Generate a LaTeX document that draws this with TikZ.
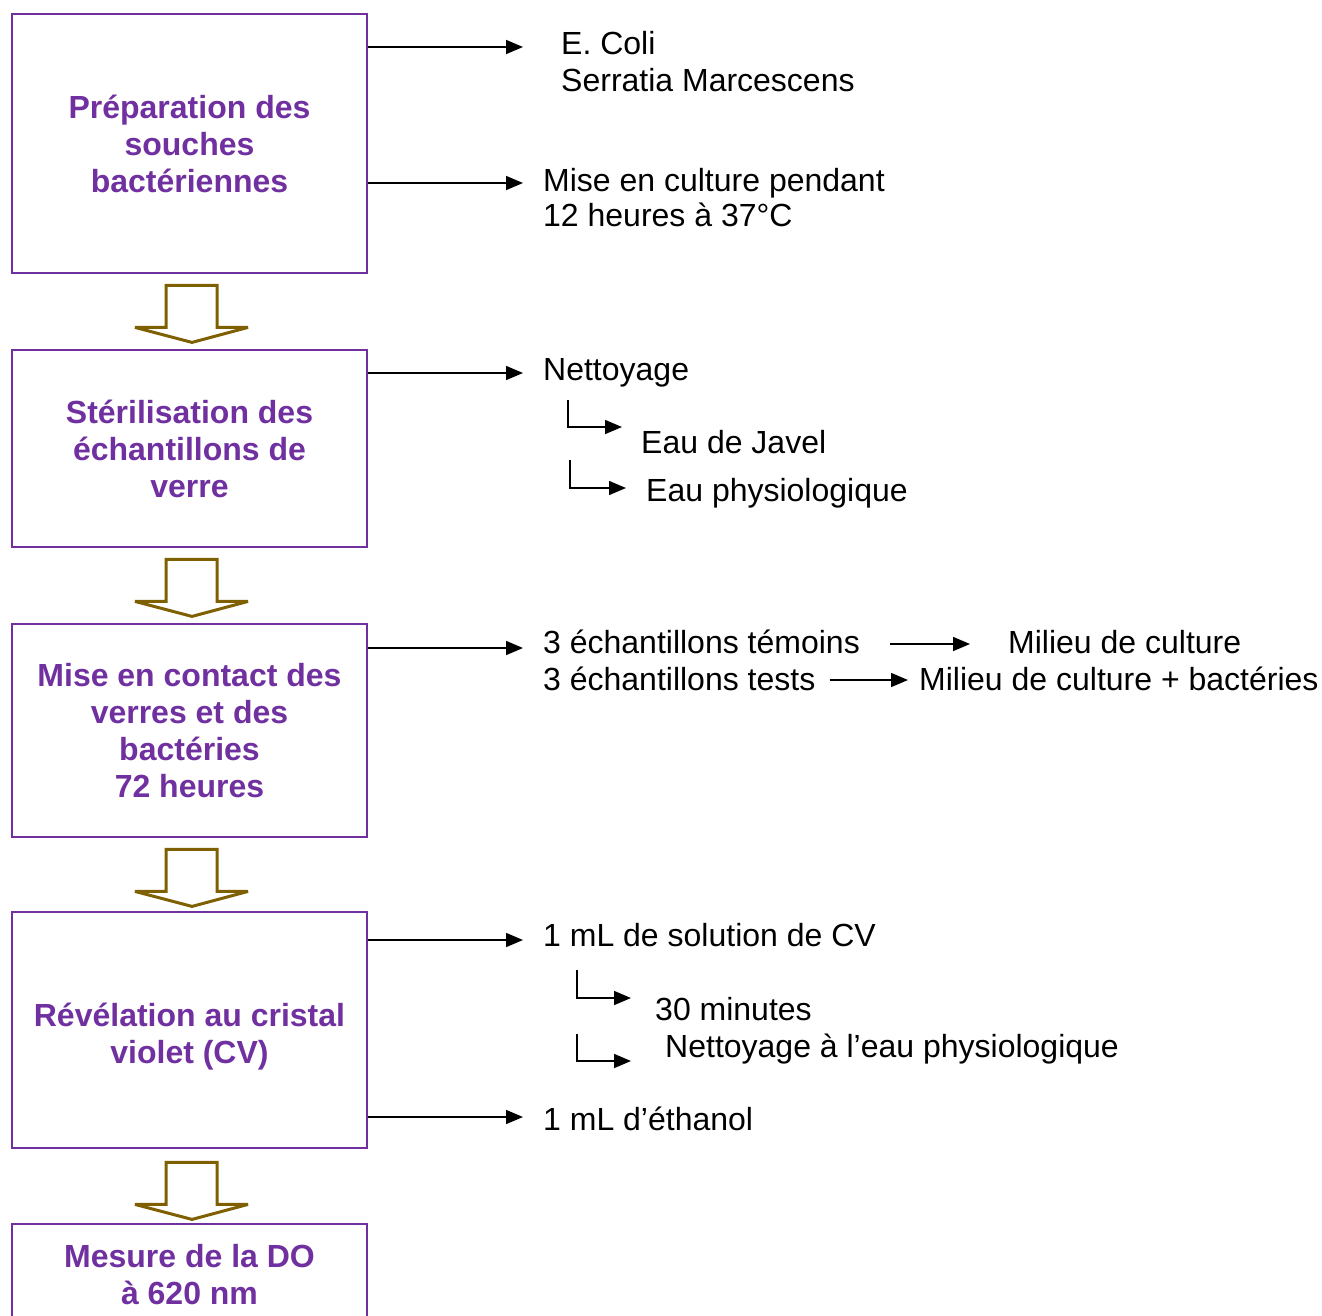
\documentclass[tikz,border=0pt]{standalone}
\usepackage{fontspec}
\setmainfont{Liberation Sans}
\usetikzlibrary{arrows.meta,calc}
\definecolor{vio}{HTML}{7030A0}
\definecolor{olv}{HTML}{7F6000}
\begin{document}
\begin{tikzpicture}[x=1pt,y=-1pt,
  stepbox/.style={draw=vio, line width=2.8pt, minimum width=355pt, text=vio,
    font=\fontsize{32}{37}\selectfont\bfseries, align=center, inner sep=0pt},
  lbl/.style={anchor=base west, inner sep=0pt, font=\fontsize{32}{37}\selectfont},
  conn/.style={line width=1.6pt, -{Triangle[length=17pt,width=14pt]}},
  blockarrow/.style={draw=olv, line width=3pt, fill=white, line join=miter, miter limit=1.5},
  downarr/.pic={\draw[blockarrow] (-23.5,11) -- (27.5,11) -- (27.5,53) -- (58.5,53)
     -- (2.5,68) -- (-54.5,53) -- (-23.5,53) -- cycle;}]
\useasboundingbox (0,0) rectangle (1322,1315);

% boxes
\node[stepbox, minimum height=259pt] (b1) at (189.5,143.5) {Préparation des\\souches\\bactériennes};
\node[stepbox, minimum height=197pt] (b2) at (189.5,448.5) {Stérilisation des\\échantillons de\\verre};
\node[stepbox, minimum height=213pt] (b3) at (189.5,730.5) {Mise en contact des\\verres et des\\bactéries\\72 heures};
\node[stepbox, minimum height=236pt] (b4) at (189.5,1030) {\rule{0pt}{37pt}Révélation au cristal\\violet (CV)};
\node[stepbox, minimum height=102pt] (b5) at (189.5,1275) {Mesure de la DO\\à 620 nm};

% block arrows
\pic at (b1.south) {downarr};
\pic at (b2.south) {downarr};
\pic at (b3.south) {downarr};
\pic at ([yshift=-2pt]b4.south) {downarr};

% right texts
\node[lbl] (t1a) at (561,54) {E. Coli};
\node[lbl] (t1b) at (561,91) {Serratia Marcescens};
\node[lbl] (t2a) at (543,191) {Mise en culture pendant};
\node[lbl] (t2b) at (543,226) {12 heures à 37°C};
\node[lbl] (t3) at (543,380) {Nettoyage};
\node[lbl] (t3a) at (641,453) {Eau de Javel};
\node[lbl] (t3b) at (646,501) {Eau physiologique};
\node[lbl] (t4a) at (543,653) {3 échantillons témoins};
\node[lbl] (t4b) at (543,690) {3 échantillons tests};
\node[lbl] (m4a) at (1008,653) {Milieu de culture};
\node[lbl] (m4b) at (919,690) {Milieu de culture + bactéries};
\node[lbl] (t5) at (543,946) {1 mL de solution de CV};
\node[lbl] (t5a) at (655,1020) {30 minutes};
\node[lbl] (t5b) at (665,1057) {Nettoyage à l’eau physiologique};
\node[lbl] (t6) at (543,1130) {1 mL d’éthanol};

% arrow end coordinates
\coordinate (e1) at (523,47);
\coordinate (e2) at (523,183);
\coordinate (e3) at (523,373);
\coordinate (e4) at (523,648);
\coordinate (e5) at (523,940);
\coordinate (e6) at (523,1117);
\draw[conn] (b1.east |- e1) -- (e1);
\draw[conn] (b1.east |- e2) -- (e2);
\draw[conn] (b2.east |- e3) -- (e3);
\draw[conn] (b3.east |- e4) -- (e4);
\draw[conn] (b4.east |- e5) -- (e5);
\draw[conn] (b4.east |- e6) -- (e6);

% elbow arrows
\coordinate (k1s) at (568,400); \coordinate (k1e) at (622,427);
\coordinate (k2s) at (570,460); \coordinate (k2e) at (626,488);
\coordinate (k3s) at (577,970); \coordinate (k3e) at (631,998);
\coordinate (k4s) at (577,1034); \coordinate (k4e) at (631,1061);
\draw[conn] (k1s) |- (k1e);
\draw[conn] (k2s) |- (k2e);
\draw[conn] (k3s) |- (k3e);
\draw[conn] (k4s) |- (k4e);

% row arrows
\draw[conn] ($(t4a.base east)+(30,-9)$) -- ($(m4a.base west)+(-38,-9)$);
\draw[conn] ($(t4b.base east)+(14,-10)$) -- ($(m4b.base west)+(-11,-10)$);
\end{tikzpicture}
\end{document}
